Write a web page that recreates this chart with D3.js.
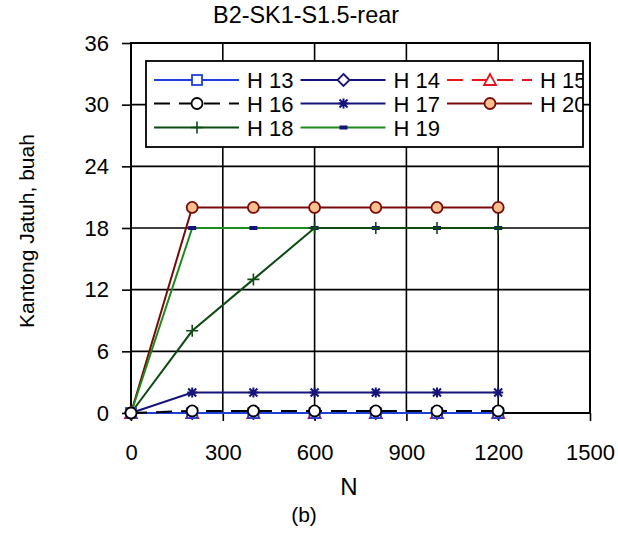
<!DOCTYPE html>
<html>
<head>
<meta charset="utf-8">
<script src="https://cdn.jsdelivr.net/npm/d3@7/dist/d3.min.js"></script>
<style>
  body { margin: 0; background: #fff; }
  svg text { font-family: "Liberation Sans", Arial, sans-serif; }
</style>
</head>
<body>
<div id="chart"></div>
<script>
// data
var cycles = [0, 200, 400, 600, 800, 1000, 1200];
var h13 = [0, 0, 0, 0, 0, 0, 0];
var h14 = [0, 0, 0, 0, 0, 0, 0];
var h15 = [0, 0, 0, 0, 0, 0, 0];
var h16 = [0, 0.2, 0.2, 0.2, 0.2, 0.2, 0.2];
var h17 = [0, 2, 2, 2, 2, 2, 2];
var h18 = [0, 8, 13, 18, 18, 18, 18];
var h19 = [0, 18, 18, 18, 18, 18, 18];
var h20 = [0, 20, 20, 20, 20, 20, 20];
var xTicks = [0, 300, 600, 900, 1200, 1500];
var yTicks = [0, 6, 12, 18, 24, 30, 36];

var series = [
  {name: "H 13", values: h13, color: "#1f3fd8", dash: null, marker: "square", mfill: "#fff", mstroke: "#1f3fd8"},
  {name: "H 14", values: h14, color: "#14147a", dash: null, marker: "diamond", mfill: "#fff", mstroke: "#14147a"},
  {name: "H 15", values: h15, color: "#e8141e", dash: "16,9", marker: "triangle", mfill: "#fff", mstroke: "#e8141e"},
  {name: "H 16", values: h16, color: "#000", dash: "16,9", marker: "circle", mfill: "#fff", mstroke: "#000"},
  {name: "H 17", values: h17, color: "#14147a", dash: null, marker: "star", mfill: "none", mstroke: "#14147a"},
  {name: "H 20", values: h20, color: "#7a0a0a", dash: null, marker: "circle", mfill: "#f9c08e", mstroke: "#7a0a0a"},
  {name: "H 18", values: h18, color: "#0f4a12", dash: null, marker: "plus", mfill: "none", mstroke: "#0f4a12"},
  {name: "H 19", values: h19, color: "#1e8a1e", dash: null, marker: "bar", mfill: "#14147a", mstroke: "#14147a"}
];
// bottom ones last so they sit on top like the original
var drawOrder = ["H 20", "H 19", "H 18", "H 17", "H 14", "H 15", "H 13", "H 16"];

var W = 618, H = 536;
var pLeft = 131, pRight = 590, pTop = 43, pBottom = 413;

var svg = d3.select("#chart").append("svg").attr("width", W).attr("height", H);

var x = d3.scaleLinear().domain([0, 1500]).range([pLeft, pRight]);
var y = d3.scaleLinear().domain([0, 36]).range([pBottom, pTop]);

// grid
svg.append("g").selectAll("line").data(yTicks.slice(1, -1)).enter().append("line")
  .attr("x1", pLeft).attr("x2", pRight)
  .attr("y1", function(d) { return y(d); }).attr("y2", function(d) { return y(d); })
  .attr("stroke", "#000").attr("stroke-width", 1.6);
svg.append("g").selectAll("line").data(xTicks.slice(1, -1)).enter().append("line")
  .attr("y1", pTop).attr("y2", pBottom)
  .attr("x1", function(d) { return x(d); }).attr("x2", function(d) { return x(d); })
  .attr("stroke", "#000").attr("stroke-width", 1.6);

// axes
var yAxis = svg.append("g").attr("transform", "translate(" + pLeft + ",0)")
  .call(d3.axisLeft(y).tickValues(yTicks).tickFormat(d3.format("d")).tickSize(9).tickPadding(13));
var xAxis = svg.append("g").attr("transform", "translate(0," + pBottom + ")")
  .call(d3.axisBottom(x).tickValues(xTicks).tickFormat(d3.format("d")).tickSize(8).tickPadding(23));
[yAxis, xAxis].forEach(function(a) {
  a.select(".domain").remove();
  a.selectAll("line").attr("stroke", "#000").attr("stroke-width", 1.6);
  a.selectAll("text").attr("font-size", 22).attr("fill", "#000")
    .attr("font-family", "'Liberation Sans', Arial, sans-serif");
});

// frame
svg.append("rect").attr("x", pLeft).attr("y", pTop)
  .attr("width", pRight - pLeft).attr("height", pBottom - pTop)
  .attr("fill", "none").attr("stroke", "#000").attr("stroke-width", 2);

// markers
function drawMarker(g, s, cx, cy) {
  var m = s.marker;
  if (m === "square") {
    g.append("rect").attr("x", cx - 5).attr("y", cy - 5).attr("width", 10).attr("height", 10)
      .attr("fill", s.mfill).attr("stroke", s.mstroke).attr("stroke-width", 1.8);
  } else if (m === "diamond") {
    g.append("path").attr("d", "M" + cx + "," + (cy - 6) + "L" + (cx + 6) + "," + cy + "L" + cx + "," + (cy + 6) + "L" + (cx - 6) + "," + cy + "Z")
      .attr("fill", s.mfill).attr("stroke", s.mstroke).attr("stroke-width", 1.8);
  } else if (m === "triangle") {
    g.append("path").attr("d", "M" + cx + "," + (cy - 6) + "L" + (cx + 6) + "," + (cy + 5) + "L" + (cx - 6) + "," + (cy + 5) + "Z")
      .attr("fill", s.mfill).attr("stroke", s.mstroke).attr("stroke-width", 1.8);
  } else if (m === "circle") {
    g.append("circle").attr("cx", cx).attr("cy", cy).attr("r", 5.5)
      .attr("fill", s.mfill).attr("stroke", s.mstroke).attr("stroke-width", 1.8);
  } else if (m === "star") {
    g.append("path").attr("d", "M" + (cx - 5) + "," + cy + "H" + (cx + 5) + "M" + (cx - 4) + "," + (cy - 4) + "L" + (cx + 4) + "," + (cy + 4) +
      "M" + (cx - 4) + "," + (cy + 4) + "L" + (cx + 4) + "," + (cy - 4) + "M" + cx + "," + (cy - 5) + "V" + (cy + 5))
      .attr("stroke", s.mstroke).attr("stroke-width", 2).attr("fill", "none");
  } else if (m === "plus") {
    g.append("path").attr("d", "M" + (cx - 6) + "," + cy + "H" + (cx + 6) + "M" + cx + "," + (cy - 6) + "V" + (cy + 6))
      .attr("stroke", s.mstroke).attr("stroke-width", 1.6).attr("fill", "none");
  } else if (m === "bar") {
    g.append("rect").attr("x", cx - 4).attr("y", cy - 2).attr("width", 8).attr("height", 4)
      .attr("fill", s.mfill);
  }
}

var line = d3.line().x(function(d) { return x(d[0]); }).y(function(d) { return y(d[1]); });
var plot = svg.append("g");
drawOrder.forEach(function(name) {
  var s = series.find(function(d) { return d.name === name; });
  var pts = cycles.map(function(c, i) { return [c, s.values[i]]; });
  plot.append("path").attr("d", line(pts)).attr("fill", "none")
    .attr("stroke", s.color).attr("stroke-width", 2)
    .attr("stroke-dasharray", s.dash);
  var mg = plot.append("g");
  pts.forEach(function(p) { drawMarker(mg, s, x(p[0]), y(p[1])); });
});

// legend: the box runs past its last column and cuts the labels
var legX = 146, legY = 61, legR = 583, legB = 147;
svg.append("clipPath").attr("id", "legClip").append("rect")
  .attr("x", legX).attr("y", legY).attr("width", legR - legX).attr("height", legB - legY);
svg.append("rect").attr("x", legX).attr("y", legY).attr("width", legR - legX).attr("height", legB - legY)
  .attr("fill", "#fff").attr("stroke", "#000").attr("stroke-width", 1.8);
var leg = svg.append("g").attr("clip-path", "url(#legClip)");
var legendOrder = ["H 13", "H 14", "H 15", "H 16", "H 17", "H 20", "H 18", "H 19"];
var rowY = [80, 103.5, 127.5];
legendOrder.forEach(function(name, i) {
  var s = series.find(function(d) { return d.name === name; });
  var col = i % 3, row = Math.floor(i / 3);
  var lx = 154 + col * 146.5, ly = rowY[row];
  leg.append("line").attr("x1", lx).attr("x2", lx + 85).attr("y1", ly).attr("y2", ly)
    .attr("stroke", s.color).attr("stroke-width", 2).attr("stroke-dasharray", s.dash);
  drawMarker(leg, s, lx + 43, ly);
  leg.append("text").attr("x", lx + 93).attr("y", ly + 8).attr("font-size", 22)
    .attr("fill", "#000").text(name);
});

// titles
svg.append("text").attr("x", 306).attr("y", 23).attr("text-anchor", "middle")
  .attr("font-size", 23.4).text("B2-SK1-S1.5-rear");
svg.append("text").attr("transform", "translate(33.5," + 231 + ") rotate(-90)")
  .attr("text-anchor", "middle").attr("font-size", 21).text("Kantong Jatuh, buah");
svg.append("text").attr("x", 349).attr("y", 495).attr("text-anchor", "middle")
  .attr("font-size", 24).text("N");
svg.append("text").attr("x", 304).attr("y", 522).attr("text-anchor", "middle")
  .attr("font-size", 21).attr("font-family", "'Liberation Serif', 'Times New Roman', serif").text("(b)");
</script>
</body>
</html>
